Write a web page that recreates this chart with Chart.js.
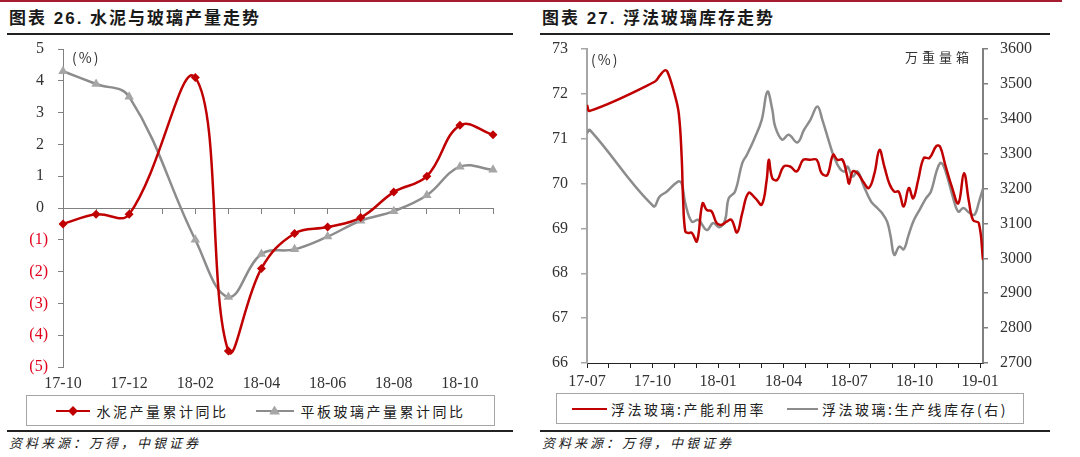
<!DOCTYPE html>
<html>
<head>
<meta charset="utf-8">
<script src="https://cdn.jsdelivr.net/npm/chart.js@4.4.1/dist/chart.umd.min.js"></script>
<style>
body{margin:0;width:1080px;height:457px;background:#fff;position:relative;overflow:hidden;font-family:"Liberation Sans","Noto Sans CJK SC",sans-serif;color:#1a1a1a;}
.abs{position:absolute;}
.topbar{left:0;top:0;width:1062px;height:2px;background:#a51c30;}
.title{top:9px;font-weight:bold;font-size:17px;letter-spacing:2px;line-height:20px;white-space:nowrap;}
.rule{height:2px;background:#222;}
.src{top:434px;font-style:italic;font-size:13px;letter-spacing:3px;line-height:18px;white-space:nowrap;font-family:"Noto Sans CJK SC";}
.legend{height:31px;border:1.5px solid #a6a6a6;box-sizing:border-box;display:flex;align-items:center;justify-content:center;font-family:"Noto Sans CJK SC";font-size:14px;letter-spacing:2.5px;color:#222;white-space:nowrap;}
.sw{display:inline-block;position:relative;height:14px;}
.sw .ln{position:absolute;left:0;right:0;top:6px;height:2.5px;}
.sw .mk{position:absolute;left:50%;top:50%;}
.note{font-family:"Noto Sans CJK SC";font-size:14px;color:#333;white-space:nowrap;line-height:16px;}
canvas{position:absolute;}
</style>
</head>
<body>
<div class="abs topbar"></div>

<div class="abs title" style="left:9px">图表 26. 水泥与玻璃产量走势</div>
<div class="abs rule" style="left:7px;top:33px;width:506px"></div>
<canvas id="c1" width="510" height="357" style="left:0;top:38px"></canvas>
<div class="abs note" style="left:72px;top:49px;letter-spacing:2px">(%)</div>
<div class="abs legend" id="lg1" style="left:26px;top:395px;width:469px"></div>
<div class="abs rule" style="left:7px;top:430px;width:506px;height:1.5px"></div>
<div class="abs src" style="left:9px">资料来源：万得，中银证券</div>

<div class="abs title" style="left:542px">图表 27. 浮法玻璃库存走势</div>
<div class="abs rule" style="left:540px;top:33px;width:510px"></div>
<canvas id="c2" width="520" height="350" style="left:540px;top:38px"></canvas>
<div class="abs note" style="left:591px;top:51px;letter-spacing:2px">(%)</div>
<div class="abs note" style="left:905px;top:49px;font-size:13px;letter-spacing:4px">万重量箱</div>
<div class="abs legend" id="lg2" style="left:556px;top:393px;width:468px"></div>
<div class="abs rule" style="left:540px;top:430px;width:510px;height:1.5px"></div>
<div class="abs src" style="left:542px">资料来源：万得，中银证券</div>

<script>
// ---- chart 26: monthly cumulative yoy (%)
const months = ['17-10', '17-11', '17-12', '18-01', '18-02', '18-03', '18-04', '18-05', '18-06', '18-07', '18-08', '18-09', '18-10', '18-11'];
const cementYoy = [-0.5, -0.2, -0.2, null, 4.1, -4.5, -1.9, -0.8, -0.6, -0.3, 0.5, 1.0, 2.6, 2.3];
const glassYoy = [4.3, 3.9, 3.5, null, -1.0, -2.8, -1.45, -1.3, -0.9, -0.4, -0.1, 0.4, 1.3, 1.2];

// ---- chart 27: weekly float glass data
const utilDates = ['2017-07-01', '2017-07-05', '2017-10-04', '2017-10-11', '2017-10-18', '2017-10-22', '2017-11-01', '2017-11-07', '2017-11-11', '2017-11-13',
  '2017-11-16', '2017-11-20', '2017-11-25', '2017-12-02', '2017-12-10', '2017-12-16', '2017-12-23', '2017-12-30', '2018-01-06', '2018-01-13',
  '2018-01-20', '2018-01-28', '2018-02-04', '2018-02-12', '2018-02-21', '2018-03-01', '2018-03-08', '2018-03-11', '2018-03-16', '2018-03-23',
  '2018-04-01', '2018-04-10', '2018-04-19', '2018-04-28', '2018-05-08', '2018-05-17', '2018-05-24', '2018-06-01', '2018-06-09', '2018-06-15',
  '2018-06-22', '2018-06-28', '2018-07-01', '2018-07-06', '2018-07-13', '2018-07-21', '2018-07-29', '2018-08-06', '2018-08-13', '2018-08-20',
  '2018-08-27', '2018-09-03', '2018-09-09', '2018-09-16', '2018-09-23', '2018-09-29', '2018-10-06', '2018-10-14', '2018-10-22', '2018-11-01',
  '2018-11-06', '2018-11-13', '2018-11-22', '2018-12-01', '2018-12-09', '2018-12-16', '2018-12-22', '2018-12-30', '2019-01-05'];
const utilRate = [71.75, 71.62, 72.27, 72.40, 72.52, 72.50, 72.01, 71.57, 70.60, 69.64,
  68.93, 68.90, 68.90, 68.71, 69.56, 69.41, 69.38, 69.12, 69.08, 69.15,
  69.19, 68.91, 69.34, 69.79, 69.67, 69.53, 70.08, 70.53, 70.12, 70.08,
  70.38, 70.38, 70.27, 70.53, 70.53, 70.53, 70.23, 70.19, 70.64, 70.53,
  70.53, 70.19, 70.00, 70.27, 70.23, 70.04, 69.90, 70.23, 70.75, 70.38,
  70.00, 69.82, 69.82, 69.49, 69.90, 69.67, 70.08, 70.57, 70.57, 70.84,
  70.82, 70.42, 69.93, 69.56, 70.23, 69.60, 69.18, 69.12, 68.30];

const stockDates = ['2017-07-01', '2017-07-05', '2017-10-02', '2017-10-11', '2017-10-21', '2017-11-06', '2017-11-11', '2017-11-16', '2017-11-25', '2017-12-04',
  '2017-12-16', '2017-12-25', '2018-01-03', '2018-01-11', '2018-01-16', '2018-01-25', '2018-02-04', '2018-02-10', '2018-02-19', '2018-03-01',
  '2018-03-09', '2018-03-16', '2018-03-20', '2018-03-30', '2018-04-08', '2018-04-20', '2018-04-29', '2018-05-08', '2018-05-18', '2018-05-25',
  '2018-06-04', '2018-06-10', '2018-06-18', '2018-06-25', '2018-06-29', '2018-07-06', '2018-07-13', '2018-07-22', '2018-08-01', '2018-08-08',
  '2018-08-17', '2018-08-24', '2018-08-29', '2018-09-03', '2018-09-10', '2018-09-16', '2018-09-22', '2018-09-29', '2018-10-08', '2018-10-17',
  '2018-10-24', '2018-11-01', '2018-11-06', '2018-11-10', '2018-11-17', '2018-11-24', '2018-12-01', '2018-12-08', '2018-12-17', '2018-12-24',
  '2018-12-30', '2019-01-05'];
const stockLevel = [3359, 3368, 3150, 3177, 3191, 3220, 3215, 3158, 3105, 3110,
  3081, 3101, 3089, 3110, 3172, 3191, 3273, 3297, 3340, 3397,
  3478, 3426, 3378, 3340, 3354, 3332, 3368, 3397, 3435, 3397,
  3330, 3292, 3258, 3249, 3263, 3234, 3249, 3206, 3163, 3148,
  3129, 3105, 3062, 3010, 3034, 3026, 3062, 3105, 3139, 3172,
  3191, 3249, 3273, 3268, 3225, 3172, 3134, 3144, 3130, 3125,
  3160, 3200];

const RED = '#c00000';
const GREY = '#8c8c8c';
const NEG = '#e3001b';
const TXT = '#333';
const tickFont = {family: 'Liberation Sans Narrow', size: 16};

// months since 2017-07 (x axis of chart 27)
function monthPos(s) {
  const [y, m, d] = s.split('-').map(Number);
  const days = new Date(y, m, 0).getDate();
  return (y - 2017) * 12 + (m - 7) + (d - 1) / days;
}
function monthName(v) {
  const t = v + 6;
  const y = 17 + Math.floor(t / 12);
  const m = (t % 12) + 1;
  return y + '-' + String(m).padStart(2, '0');
}

// fixed axis width, no extra label padding above/below
function fixY(w) {
  return s => { s.width = w; s.paddingTop = 0; s.paddingBottom = 0; };
}

function buildLegend(el, datasets, widths, gaps) {
  datasets.forEach((ds, i) => {
    const item = document.createElement('span');
    item.style.display = 'inline-flex';
    item.style.alignItems = 'center';
    if (i > 0) item.style.marginLeft = gaps[0] + 'px';
    const sw = document.createElement('span');
    sw.className = 'sw';
    sw.style.width = widths[i] + 'px';
    sw.style.marginRight = gaps[1] + 'px';
    const ln = document.createElement('span');
    ln.className = 'ln';
    ln.style.background = ds.borderColor;
    sw.appendChild(ln);
    if (ds.pointRadius) {
      const mk = document.createElement('span');
      mk.className = 'mk';
      mk.style.background = ds.backgroundColor;
      if (ds.pointStyle === 'rectRot') {
        mk.style.width = '7px'; mk.style.height = '7px';
        mk.style.transform = 'translate(-50%,-50%) rotate(45deg)';
      } else {
        mk.style.width = '11px'; mk.style.height = '9px';
        mk.style.transform = 'translate(-50%,-55%)';
        mk.style.clipPath = 'polygon(50% 0, 100% 100%, 0 100%)';
      }
      sw.appendChild(mk);
    }
    item.appendChild(sw);
    const tx = document.createElement('span');
    tx.textContent = ds.label;
    item.appendChild(tx);
    el.appendChild(item);
  });
}

const chart1 = new Chart(document.getElementById('c1'), {
  type: 'line',
  data: {
    labels: months,
    datasets: [{
      label: '水泥产量累计同比',
      data: cementYoy,
      borderColor: RED,
      backgroundColor: RED,
      borderWidth: 2.5,
      pointStyle: 'rectRot',
      pointRadius: 4.5,
      pointBorderWidth: 0,
      tension: 0.4,
      spanGaps: true
    }, {
      label: '平板玻璃产量累计同比',
      data: glassYoy,
      borderColor: GREY,
      backgroundColor: '#a6a6a6',
      borderWidth: 2.5,
      pointStyle: 'triangle',
      pointRadius: 5.5,
      pointBorderWidth: 0,
      tension: 0.4,
      spanGaps: true
    }]
  },
  options: {
    responsive: false,
    animation: false,
    layout: {padding: {left: 0, right: 17, top: 11, bottom: 0}},
    plugins: {legend: {display: false}, tooltip: {enabled: false}},
    scales: {
      x: {
        position: {y: 0},
        grid: {drawOnChartArea: false, tickLength: 5, color: '#808080'},
        border: {color: '#808080'},
        ticks: {display: false},
        afterFit: s => { s.height = 0; }
      },
      xb: {
        type: 'category',
        position: 'bottom',
        grid: {display: false, drawTicks: false},
        border: {display: false},
        ticks: {
          autoSkip: false, maxRotation: 0, padding: 7, font: tickFont, color: TXT,
          callback: (v, i) => (i % 2 === 0 ? months[i] : '')
        },
        afterFit: s => { s.height = 28; }
      },
      y: {
        min: -5,
        max: 5,
        grid: {drawOnChartArea: false, tickLength: 5, color: '#808080'},
        border: {color: '#808080'},
        ticks: {
          stepSize: 1, padding: 10, font: tickFont,
          color: c => (c.tick.value < 0 ? NEG : TXT),
          callback: v => (v < 0 ? '(' + (-v) + ')' : v + ' ')
        },
        afterFit: fixY(63)
      }
    }
  }
});

const chart2 = new Chart(document.getElementById('c2'), {
  type: 'line',
  data: {
    datasets: [{
      label: '浮法玻璃:产能利用率',
      data: utilDates.map((d, i) => ({x: monthPos(d), y: utilRate[i]})),
      borderColor: RED,
      backgroundColor: RED,
      borderWidth: 2.5,
      pointRadius: 0,
      tension: 0.4,
      yAxisID: 'y'
    }, {
      label: '浮法玻璃:生产线库存(右)',
      data: stockDates.map((d, i) => ({x: monthPos(d), y: stockLevel[i]})),
      borderColor: GREY,
      backgroundColor: GREY,
      borderWidth: 2.5,
      pointRadius: 0,
      tension: 0.4,
      yAxisID: 'y2'
    }]
  },
  options: {
    responsive: false,
    animation: false,
    layout: {padding: {left: 0, right: 17, top: 11, bottom: 0}},
    plugins: {legend: {display: false}, tooltip: {enabled: false}},
    scales: {
      x: {
        type: 'linear',
        min: 0,
        max: monthPos(utilDates[utilDates.length - 1]),
        grid: {drawOnChartArea: false, tickLength: 5, color: '#222'},
        border: {color: '#222'},
        ticks: {
          stepSize: 1, autoSkip: false, includeBounds: false, maxRotation: 0, padding: 4,
          font: tickFont, color: TXT,
          callback: v => (Number.isInteger(v) && v % 3 === 0 ? monthName(v) : '')
        },
        afterFit: s => { s.height = 25; }
      },
      y: {
        position: 'left',
        min: 66,
        max: 73,
        grid: {drawOnChartArea: false, tickLength: 6, color: '#a6a6a6', lineWidth: 1.5},
        border: {color: '#a6a6a6', width: 2},
        ticks: {stepSize: 1, padding: 13, font: tickFont, color: TXT},
        afterFit: fixY(47)
      },
      y2: {
        position: 'right',
        min: 2700,
        max: 3600,
        grid: {drawOnChartArea: false, tickLength: 5, color: '#808080', lineWidth: 1.5},
        border: {color: '#808080', width: 2},
        ticks: {stepSize: 100, padding: 12, font: tickFont, color: TXT, callback: v => String(v)},
        afterFit: fixY(60)
      }
    }
  }
});

buildLegend(document.getElementById('lg1'), chart1.data.datasets, [34, 38], [27, 7]);
buildLegend(document.getElementById('lg2'), chart2.data.datasets, [35, 31], [21, 4]);
</script>
</body>
</html>
